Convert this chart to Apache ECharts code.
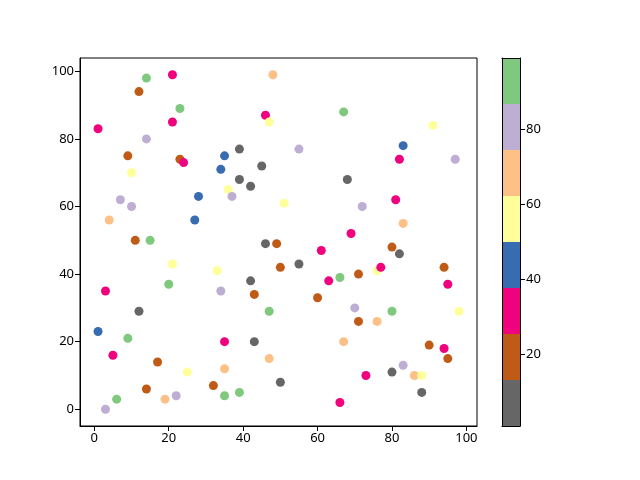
<!DOCTYPE html>
<html>
<head>
<meta charset="utf-8">
<script src="https://cdn.jsdelivr.net/npm/echarts@6/dist/echarts.min.js"></script>
<style>html,body{margin:0;padding:0;background:#fff}#c{width:640px;height:480px}</style>
</head>
<body>
<div id="c"></div>
<script>
// colour classes (Accent_r, 8 bins) – representative c value per class
var C = {grey: 7, brown: 19, pink: 32, blue: 44, yellow: 56, orange: 68, purple: 81, green: 93};
var xs = [14,21,12,23,21,1,14,9,23,24,10,28,7,10,27,4,11,15,
          48,46,47,67,39,35,55,34,45,39,42,68,36,37,51,46,49,
          91,83,82,97,81,72,83,69,
          21,33,20,3,12,1,9,5,17,25,32,14,19,22,6,3,
          61,50,55,42,34,43,63,66,60,47,35,43,67,47,35,50,35,39,66,
          80,82,71,76,77,94,95,70,80,98,71,76,90,94,95,83,80,73,86,88,88];
var ys = [98,99,94,89,85,83,80,75,74,73,70,63,62,60,56,56,50,50,
          99,87,85,88,77,75,77,71,72,68,66,68,65,63,61,49,49,
          84,78,74,74,62,60,55,52,
          43,41,37,35,29,23,21,16,14,11,7,6,3,4,3,0,
          47,42,43,38,35,34,38,39,33,29,20,20,20,15,12,8,4,5,2,
          48,46,40,41,42,42,37,30,29,29,26,26,19,18,15,13,11,10,10,10,5];
var cs = [C.green,C.pink,C.brown,C.green,C.pink,C.pink,C.purple,C.brown,C.brown,C.pink,C.yellow,C.blue,C.purple,C.purple,C.blue,C.orange,C.brown,C.green,
          C.orange,C.pink,C.yellow,C.green,C.grey,C.blue,C.purple,C.blue,C.grey,C.grey,C.grey,C.grey,C.yellow,C.purple,C.yellow,C.grey,C.brown,
          C.yellow,C.blue,C.pink,C.purple,C.pink,C.purple,C.orange,C.pink,
          C.yellow,C.yellow,C.green,C.pink,C.grey,C.blue,C.green,C.pink,C.brown,C.yellow,C.brown,C.brown,C.orange,C.purple,C.green,C.purple,
          C.pink,C.brown,C.grey,C.grey,C.purple,C.brown,C.pink,C.green,C.brown,C.green,C.pink,C.grey,C.orange,C.orange,C.orange,C.grey,C.green,C.green,C.pink,
          C.brown,C.grey,C.brown,C.yellow,C.pink,C.brown,C.pink,C.purple,C.green,C.yellow,C.brown,C.orange,C.brown,C.pink,C.brown,C.purple,C.grey,C.pink,C.orange,C.yellow,C.grey];
var cmapColors = ['#666666','#bf5b17','#f0027f','#386cb0','#ffff99','#fdc086','#beaed4','#7fc97f'];
var cMin = 1, cMax = 99;
var xTicks = [0,20,40,60,80,100];
var yTicks = [0,20,40,60,80,100];
var cbTicks = [20,40,60,80];

var step = (cMax - cMin) / cmapColors.length;
var bounds = cmapColors.map(function(_, i){ return cMin + i*step; });
var pieces = cmapColors.map(function(col, i){ return {gte: bounds[i], lt: bounds[i]+step+(i===cmapColors.length-1?1:0), color: col}; });
var data = xs.map(function(x,i){ return [x, ys[i], cs[i]]; });

var cbSeries = cmapColors.map(function(col, i){
  return {type:'bar', xAxisIndex:1, yAxisIndex:1, stack:'cb', barWidth:'100%', silent:true,
          itemStyle:{color:col}, data:[i===0 ? cMin+step : step]};
});

var font = {fontFamily:'Noto Sans', fontSize:13, color:'#000'};
var chart = echarts.init(document.getElementById('c'), null, {renderer:'canvas'});
chart.setOption({
  animation:false,
  backgroundColor:'#fff',
  grid:[
    {left:80, right:163, top:58, bottom:54, show:true, borderColor:'#000', borderWidth:1, backgroundColor:'transparent'},
    {left:502, right:120, top:58, bottom:54}
  ],
  visualMap:{show:false, type:'piecewise', seriesIndex:0, dimension:2, pieces:pieces},
  xAxis:[
    {type:'value', gridIndex:0, min:-3.85, max:102.85, splitLine:{show:false},
     axisLine:{show:true, onZero:false, lineStyle:{color:'#000'}},
     axisTick:{show:true, length:5, customValues:xTicks, lineStyle:{color:'#000'}},
     axisLabel:Object.assign({customValues:xTicks, margin:6}, font)},
    {type:'category', gridIndex:1, data:['c'], boundaryGap:true, z:10,
     axisLine:{show:true, lineStyle:{color:'#000'}}, axisTick:{show:false}, axisLabel:{show:false}},
    {type:'category', gridIndex:1, data:['c'], position:'top', z:10,
     axisLine:{show:true, lineStyle:{color:'#000'}}, axisTick:{show:false}, axisLabel:{show:false}}
  ],
  yAxis:[
    {type:'value', gridIndex:0, min:-4.95, max:103.95, splitLine:{show:false},
     axisLine:{show:true, onZero:false, lineStyle:{color:'#000'}},
     axisTick:{show:true, length:5, customValues:yTicks, lineStyle:{color:'#000'}},
     axisLabel:Object.assign({customValues:yTicks, margin:6}, font)},
    {type:'value', gridIndex:1, min:cMin, max:cMax, position:'right', splitLine:{show:false}, z:10,
     axisLine:{show:true, onZero:false, lineStyle:{color:'#000'}},
     axisTick:{show:true, length:5, customValues:cbTicks, lineStyle:{color:'#000'}},
     axisLabel:Object.assign({customValues:cbTicks, margin:6}, font)},
    {type:'value', gridIndex:1, min:cMin, max:cMax, position:'left', splitLine:{show:false}, z:10,
     axisLine:{show:true, onZero:false, lineStyle:{color:'#000'}}, axisTick:{show:false}, axisLabel:{show:false}}
  ],
  series:[{type:'scatter', xAxisIndex:0, yAxisIndex:0, symbolSize:9, data:data,
           itemStyle:{opacity:1}}].concat(cbSeries)
});
</script>
</body>
</html>
